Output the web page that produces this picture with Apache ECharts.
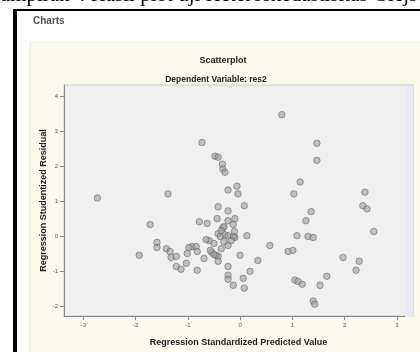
<!DOCTYPE html>
<html>
<head>
<meta charset="utf-8">
<script src="https://cdn.jsdelivr.net/npm/echarts@6/dist/echarts.min.js"></script>
<style>
  html, body { margin: 0; padding: 0; background: #fff; }
  #chart { width: 420px; height: 352px; }
</style>
</head>
<body>
<div id="chart"></div>
<script>
// Regression Standardized Predicted Value (x) and Studentized Residual (y)
const predicted = [
  -2.73, -1.38, -0.73, -0.48, -0.42, -0.34, -0.33, -0.29, -0.23, -0.06,
  -0.04, 0.80, 1.47, 1.47, 1.15, 1.03, 2.39, -1.72, -1.93, -1.59,
  -1.59, -1.41, -1.34, -1.32, -1.22, -1.22, -1.13, -1.03, -1.01, -0.92,
  -0.84, -0.82, -0.82, -0.78, -0.63, -0.69, -0.59, -0.54, -0.50, -0.44,
  -0.42, -0.23, 0.08, -0.23, -0.10, -0.13, -0.33, -0.42, -0.29, -0.38,
  -0.23, -0.10, 0.13, -0.65, -0.98, -0.42, -0.23, 0.00, 0.34, -0.42,
  -0.23, 0.19, -0.23, -0.23, 0.06, -0.13, 0.08, 0.57, -0.13, 1.36,
  1.26, 1.09, 1.30, 1.40, 0.92, 1.01, 1.05, 1.11, 1.19, 1.40,
  1.43, 1.53, 1.66, 1.97, 2.28, 2.22, 2.35, 2.43, 2.56, -0.11,
  -0.31, -0.17, -0.36, -0.46, -0.31, -0.36, -0.57, -0.50
]
const residual = [
  1.09, 1.21, 2.68, 2.29, 2.26, 2.06, 1.92, 1.83, 1.32, 1.43,
  1.21, 3.48, 2.66, 2.17, 1.55, 1.21, 1.26, 0.33, -0.55, -0.18,
  -0.33, -0.36, -0.44, -0.61, -0.58, -0.87, -0.95, -0.78, -0.50, -0.30,
  -0.30, -0.44, -0.98, 0.41, 0.36, -0.64, -0.13, -0.47, -0.21, 0.50,
  0.84, 0.72, 0.87, 0.44, 0.50, 0.33, 0.24, 0.07, 0.04, -0.01,
  0.01, -0.04, 0.01, -0.10, -0.33, -0.58, -0.27, -0.55, -0.70, -0.72,
  -0.87, -1.01, -1.12, -1.24, -1.21, -1.41, -1.49, -0.27, -0.01, 0.70,
  0.44, 0.01, -0.01, -0.04, -0.44, -0.41, -1.26, -1.30, -1.38, -1.86,
  -1.95, -1.41, -1.15, -0.61, -0.72, -0.98, 0.87, 0.78, 0.13, 0.13,
  -0.16, -0.13, -0.36, -0.55, 0.27, 0.16, -0.41, -0.53
]
const xTicks = [-3, -2, -1, 0, 1, 2, 3]
const yTicks = [-2, -1, 0, 1, 2, 3, 4]

const points = predicted.map((v, i) => [v, residual[i]])

const chart = echarts.init(document.getElementById('chart'), null, { renderer: 'canvas' })
chart.setOption({
  backgroundColor: '#fff',
  animation: false,
  graphic: [
    // caption above the frame, cut off at the top
    {
      type: 'text', left: -12, top: -15, z: -20, silent: true,
      style: { text: 'Lampiran 4 Hasil plot uji Heteroskedastisitas Glejser', fill: '#000',
        font: '21px "Liberation Serif", serif' }
    },
    { type: 'rect', shape: { x: 13, y: 9, width: 410, height: 2 }, style: { fill: '#000' }, z: -20, silent: true },
    { type: 'rect', shape: { x: 13, y: 9, width: 4, height: 350 }, style: { fill: '#000' }, z: -20, silent: true },
    {
      type: 'text', x: 33, y: 21, z: -20, silent: true,
      style: { text: 'Charts', fill: '#555', font: 'bold 10px "Liberation Sans", Arial', verticalAlign: 'middle' }
    },
    // cream chart panel
    {
      type: 'rect', shape: { x: 30, y: 42, width: 395, height: 315 },
      style: { fill: '#fbf9ec', stroke: '#f1ebcf', lineWidth: 1 }, z: -20, silent: true
    },
    {
      type: 'text', x: 223, y: 61, z: 10, silent: true,
      style: { text: 'Scatterplot', fill: '#222', font: 'bold 9px "Liberation Sans", Arial',
        align: 'center', verticalAlign: 'middle' }
    },
    {
      type: 'text', x: 216, y: 80, z: 10, silent: true,
      style: { text: 'Dependent Variable: res2', fill: '#222', font: 'bold 8.5px "Liberation Sans", Arial',
        align: 'center', verticalAlign: 'middle' }
    },
    // lavender strip on the right edge of the plot
    {
      type: 'rect', shape: { x: 405, y: 86, width: 8, height: 231 },
      style: { fill: '#ebeaf5' }, z: 1, silent: true
    }
  ],
  grid: {
    left: 64,
    right: 7,
    top: 85,
    bottom: 34,
    show: true,
    backgroundColor: '#f0f0f0',
    borderColor: '#c8c8c8',
    borderWidth: 1
  },
  xAxis: {
    type: 'value',
    min: -3.37,
    max: 3.31,
    name: 'Regression Standardized Predicted Value',
    nameLocation: 'middle',
    nameGap: 22,
    nameMoveOverlap: false,
    nameTextStyle: { color: '#222', fontWeight: 'bold', fontSize: 9, fontFamily: 'Liberation Sans' },
    axisLine: { onZero: false, lineStyle: { color: '#8a8a8a', width: 1 } },
    axisTick: { show: true, length: 4, customValues: xTicks, lineStyle: { color: '#8a8a8a' } },
    axisLabel: { customValues: xTicks, color: '#555', fontSize: 6, margin: 6 },
    splitLine: { show: false }
  },
  yAxis: {
    type: 'value',
    min: -2.29,
    max: 4.33,
    name: 'Regression Studentized Residual',
    nameLocation: 'middle',
    nameGap: 16,
    nameRotate: 90,
    nameMoveOverlap: false,
    nameTextStyle: { color: '#222', fontWeight: 'bold', fontSize: 9, fontFamily: 'Liberation Sans' },
    axisLine: { show: true, onZero: false, lineStyle: { color: '#8a8a8a', width: 1 } },
    axisTick: { show: true, length: 4, customValues: yTicks, lineStyle: { color: '#8a8a8a' } },
    axisLabel: { customValues: yTicks, color: '#555', fontSize: 6, margin: 6 },
    splitLine: { show: false }
  },
  series: [
    {
      type: 'scatter',
      data: points,
      symbol: 'circle',
      symbolSize: 6.5,
      itemStyle: {
        color: 'rgba(160,160,160,0.75)',
        borderColor: 'rgba(95,95,95,0.7)',
        borderWidth: 1
      }
    }
  ]
})
</script>
</body>
</html>
